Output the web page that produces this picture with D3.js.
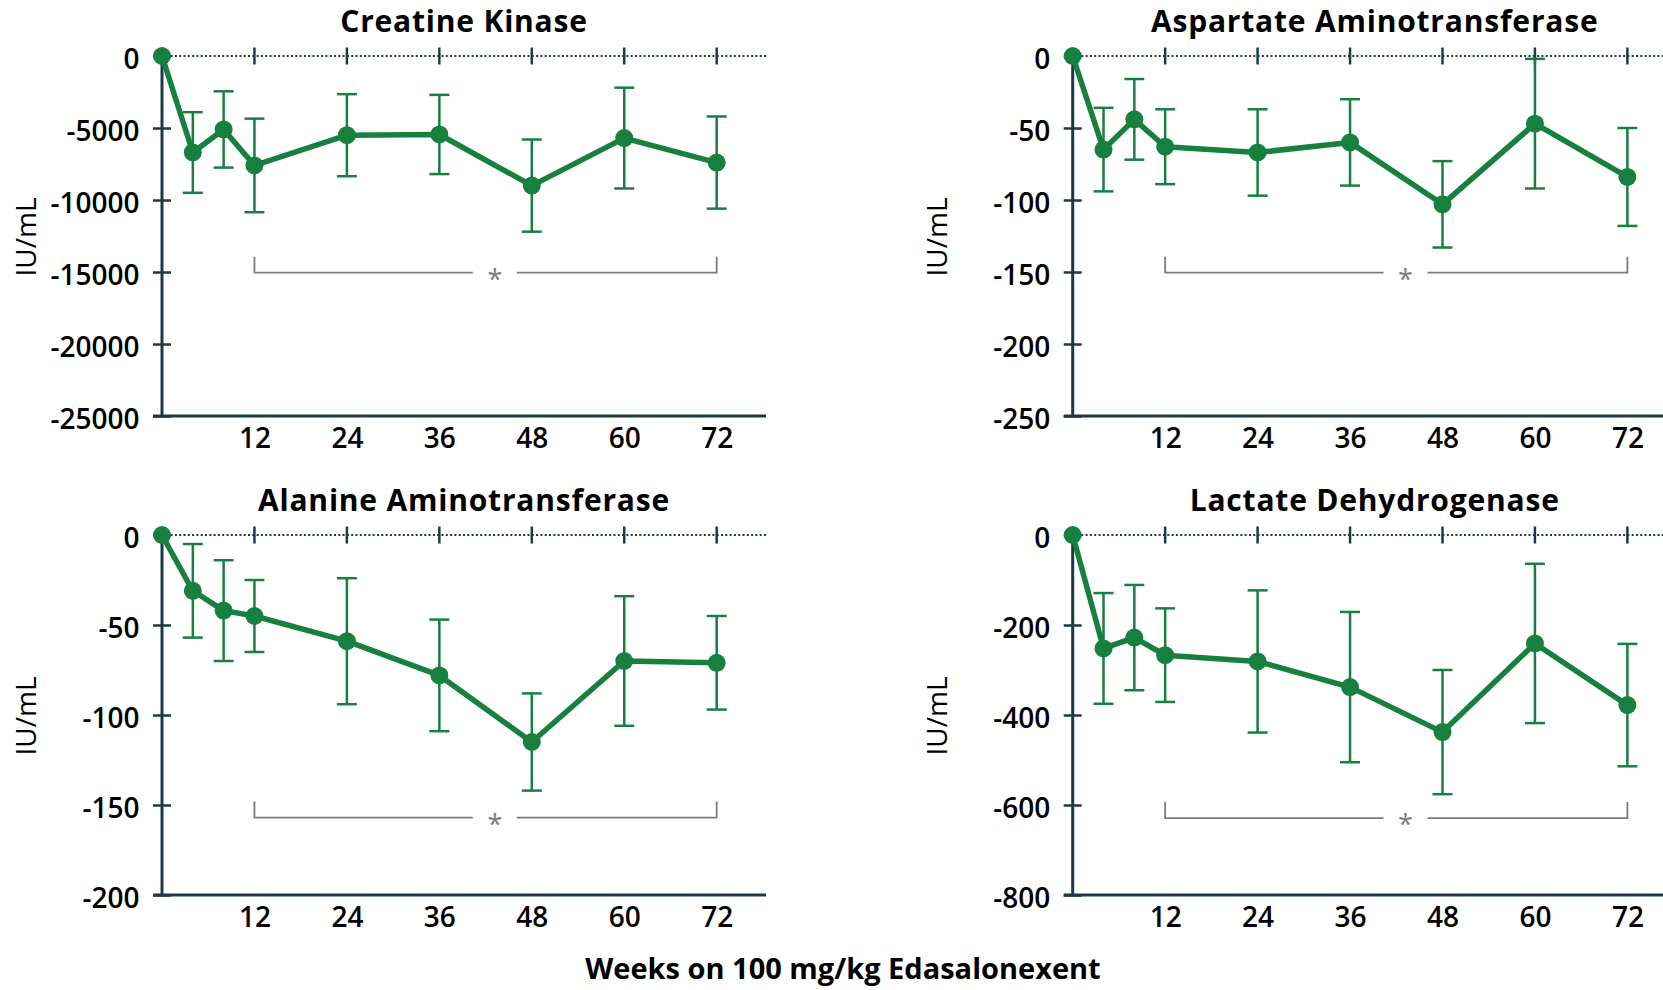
<!DOCTYPE html>
<html>
<head>
<meta charset="utf-8">
<script src="https://cdn.jsdelivr.net/npm/d3@7/dist/d3.min.js"></script>
<style>
  html, body { margin: 0; padding: 0; background: #ffffff; }
  svg { display: block; }
  text { font-family: "Open Sans", "Noto Sans", sans-serif; }
</style>
</head>
<body>
<script>
// Study visits (weeks on treatment)
const weeks = [0, 4, 8, 12, 24, 36, 48, 60, 72];
const weekTicks = [12, 24, 36, 48, 60, 72];

// Change from baseline, mean and standard error per visit
const ckMean  = [0, -6700, -5100, -7600, -5500, -5450, -9000, -5700, -7400];
const ckErr   = [0, 2800, 2650, 3250, 2850, 2750, 3200, 3500, 3200];
const ckTicks = [0, -5000, -10000, -15000, -20000, -25000];

const astMean  = [0, -65, -44, -63, -67, -60, -103, -47, -84];
const astErr   = [0, 29, 28, 26, 30, 30, 30, 45, 34];
const astTicks = [0, -50, -100, -150, -200, -250];

const altMean  = [0, -31, -42, -45, -59, -78, -115, -70, -71];
const altErr   = [0, 26, 28, 20, 35, 31, 27, 36, 26];
const altTicks = [0, -50, -100, -150, -200];

const ldhMean  = [0, -252, -228, -267, -281, -338, -438, -241, -378];
const ldhErr   = [0, 123, 117, 104, 158, 167, 138, 177, 136];
const ldhTicks = [0, -200, -400, -600, -800];

// Significance bracket: spans weeks 12–72, placed at this level on each panel
const bracketWeeks = [12, 72];
const bracketLevel = { ck: -15050, ast: -150.5, alt: -157, ldh: -629 };

const titles = {
  ck: "Creatine Kinase",
  ast: "Aspartate Aminotransferase",
  alt: "Alanine Aminotransferase",
  ldh: "Lactate Dehydrogenase"
};
const xTitle = "Weeks on 100 mg/kg Edasalonexent";
const yTitle = "IU/mL";

// ---- layout and style ----
const W = 1663, H = 990;
const GREEN = "#17803f";
const AXIS = "#1c3a45";
const GREY = "#787c80";
const colX = [0, 910.7];
const rowY = [56, 535];
const plotH = 360;
const xLeft = 162, xRight = 766;
const fmt = d => String(d); // plain hyphen for negative values

const panels = [
  { key: "ck",  mean: ckMean,  err: ckErr,  ticks: ckTicks,  col: 0, row: 0 },
  { key: "ast", mean: astMean, err: astErr, ticks: astTicks, col: 1, row: 0 },
  { key: "alt", mean: altMean, err: altErr, ticks: altTicks, col: 0, row: 1 },
  { key: "ldh", mean: ldhMean, err: ldhErr, ticks: ldhTicks, col: 1, row: 1 }
];

const svg = d3.select("body").append("svg")
  .attr("width", W).attr("height", H)
  .attr("viewBox", `0 0 ${W} ${H}`);

svg.append("rect").attr("width", W).attr("height", H).attr("fill", "#ffffff");

panels.forEach(p => {
  const ox = colX[p.col], oy = rowY[p.row];
  const x = d3.scaleLinear().domain([0, 78.4]).range([ox + xLeft, ox + xRight]);
  const y = d3.scaleLinear().domain([d3.min(p.ticks), 0]).range([oy + plotH, oy]);
  const g = svg.append("g");
  const x0 = x(0);

  // title
  g.append("text")
    .attr("x", (x.range()[0] + x.range()[1]) / 2)
    .attr("y", oy - 24)
    .attr("text-anchor", "middle")
    .attr("font-size", 30).attr("font-weight", 700).attr("fill", "#000")
    .attr("letter-spacing", 0.8)
    .text(titles[p.key]);

  // y axis label
  g.append("text")
    .attr("transform", `translate(${ox + 36},${oy + plotH / 2 + 1}) rotate(-90)`)
    .attr("text-anchor", "middle")
    .attr("font-size", 28).attr("font-weight", 400).attr("fill", "#000")
    .text(yTitle);

  // y axis with ticks crossing the spine
  const yAxis = g.append("g")
    .attr("transform", `translate(${x0},0)`)
    .call(d3.axisLeft(y).tickValues(p.ticks).tickSize(9).tickPadding(13.5).tickFormat(fmt));
  yAxis.select(".domain").remove();
  yAxis.selectAll(".tick line").attr("x1", 9).attr("x2", -9)
    .attr("stroke", AXIS).attr("stroke-width", 2.5);
  yAxis.selectAll(".tick text")
    .attr("dy", "0.45em")
    .attr("font-size", 28).attr("font-weight", 600).attr("fill", "#000")
    .attr("font-family", "\"Open Sans\", sans-serif");
  g.append("line")
    .attr("x1", x0).attr("x2", x0)
    .attr("y1", y(0)).attr("y2", y(d3.min(p.ticks)))
    .attr("stroke", AXIS).attr("stroke-width", 3);

  // bottom axis line and week labels
  const xAxis = g.append("g")
    .attr("transform", `translate(0,${y(d3.min(p.ticks))})`)
    .call(d3.axisBottom(x).tickValues(weekTicks).tickSize(0).tickPadding(12).tickFormat(fmt));
  xAxis.select(".domain").remove();
  xAxis.selectAll(".tick text")
    .attr("font-size", 28).attr("font-weight", 600).attr("fill", "#000")
    .attr("font-family", "\"Open Sans\", sans-serif");
  g.append("line")
    .attr("x1", x0 - 9).attr("x2", x.range()[1])
    .attr("y1", y(d3.min(p.ticks))).attr("y2", y(d3.min(p.ticks)))
    .attr("stroke", AXIS).attr("stroke-width", 3);

  // dotted baseline at zero with week ticks
  g.append("line")
    .attr("x1", x0).attr("x2", x.range()[1])
    .attr("y1", y(0)).attr("y2", y(0))
    .attr("stroke", AXIS).attr("stroke-width", 2.2)
    .attr("stroke-dasharray", "2,2.3");
  g.selectAll(".zt").data(weekTicks).enter().append("line")
    .attr("x1", d => x(d)).attr("x2", d => x(d))
    .attr("y1", y(0) - 8.5).attr("y2", y(0) + 8.5)
    .attr("stroke", AXIS).attr("stroke-width", 2.5);

  // significance bracket
  const by = y(bracketLevel[p.key]);
  const bx1 = x(bracketWeeks[0]), bx2 = x(bracketWeeks[1]);
  const starX = x(43.2);
  const bg = g.append("g").attr("stroke", GREY).attr("stroke-width", 1.8).attr("fill", "none");
  bg.append("path").attr("d", `M${bx1},${by - 16}V${by}H${starX - 22}`);
  bg.append("path").attr("d", `M${starX + 22},${by}H${bx2}V${by - 16}`);
  g.append("text")
    .attr("x", starX).attr("y", by + 16)
    .attr("text-anchor", "middle")
    .attr("font-size", 27).attr("fill", GREY)
    .text("*");

  const pts = weeks.map((w, i) => ({ w, m: p.mean[i], e: p.err[i] }));

  // error bars
  const eb = g.append("g").attr("stroke", GREEN).attr("stroke-width", 2.5);
  pts.filter(d => d.e > 0).forEach(d => {
    eb.append("line").attr("x1", x(d.w)).attr("x2", x(d.w))
      .attr("y1", y(d.m + d.e)).attr("y2", y(d.m - d.e));
    eb.append("line").attr("x1", x(d.w) - 10).attr("x2", x(d.w) + 10)
      .attr("y1", y(d.m + d.e)).attr("y2", y(d.m + d.e));
    eb.append("line").attr("x1", x(d.w) - 10).attr("x2", x(d.w) + 10)
      .attr("y1", y(d.m - d.e)).attr("y2", y(d.m - d.e));
  });

  // mean line and markers
  g.append("path").datum(pts)
    .attr("fill", "none").attr("stroke", GREEN).attr("stroke-width", 5.5)
    .attr("stroke-linejoin", "round")
    .attr("d", d3.line().x(d => x(d.w)).y(d => y(d.m)));
  g.selectAll(".pt").data(pts).enter().append("circle")
    .attr("cx", d => x(d.w)).attr("cy", d => y(d.m)).attr("r", 9)
    .attr("fill", GREEN);
});

// shared x axis title
svg.append("text")
  .attr("x", 843).attr("y", 979)
  .attr("text-anchor", "middle")
  .attr("font-size", 29).attr("font-weight", 700).attr("fill", "#000")
  .text(xTitle);
</script>
</body>
</html>
